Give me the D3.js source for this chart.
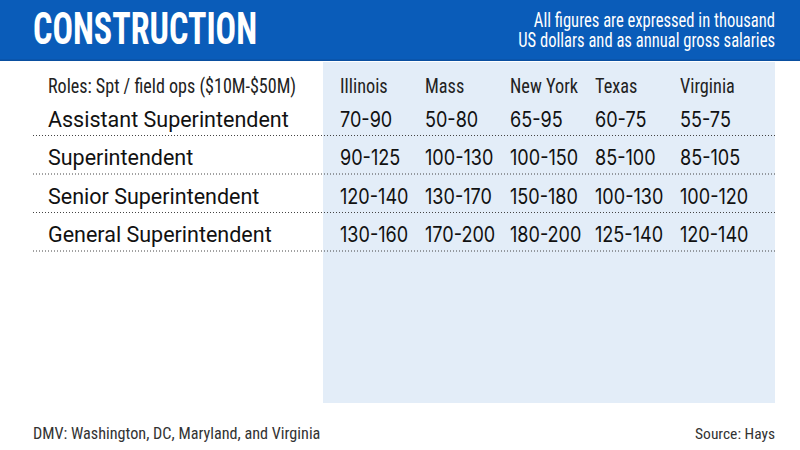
<!DOCTYPE html>
<html><head><meta charset="utf-8">
<script src="https://cdn.jsdelivr.net/npm/d3@7"></script>
<style>
html,body{margin:0;padding:0;background:#fff;}
svg{display:block;}
</style></head>
<body><svg id="c" width="800" height="450"></svg>
<script>
const title = "CONSTRUCTION";
const subtitleLines = ["All figures are expressed in thousand", "US dollars and as annual gross salaries"];
const headerLabel = "Roles: Spt / field ops ($10M-$50M)";
const states = ["Illinois", "Mass", "New York", "Texas", "Virginia"];
const roles = ["Assistant Superintendent", "Superintendent", "Senior Superintendent", "General Superintendent"];
const lowValues = [
  [70, 50, 65, 60, 55],
  [90, 100, 100, 85, 85],
  [120, 130, 150, 100, 100],
  [130, 170, 180, 125, 120]
];
const highValues = [
  [90, 80, 95, 75, 75],
  [125, 130, 150, 100, 105],
  [140, 170, 180, 130, 120],
  [160, 200, 200, 140, 140]
];
const footnote = "DMV: Washington, DC, Maryland, and Virginia";
const source = "Source: Hays";

const W = 800, H = 450;
const svg = d3.select("#c");
const narrow = "'Roboto Condensed','Liberation Sans Narrow','DejaVu Sans Condensed',sans-serif";
const regular = "Roboto,'Liberation Sans',sans-serif";
const numFont = "Inter,Roboto,sans-serif";

// squeeze text horizontally by a factor, keeping its height
function condense(sel, f){
  sel.each(function(){
    const len = this.getComputedTextLength();
    d3.select(this).attr("textLength", len * f).attr("lengthAdjust","spacingAndGlyphs");
  });
}

// header band
svg.append("rect").attr("x",0).attr("y",0).attr("width",W).attr("height",61).attr("fill","#0a5cb9");
svg.append("rect").attr("x",0).attr("y",59.5).attr("width",W).attr("height",1.5).attr("fill","#0a4fa0");

svg.append("text").attr("x",33).attr("y",44)
  .attr("font-family",narrow).attr("font-weight","bold").attr("font-size",45)
  .attr("fill","#fff").attr("textLength",224).attr("lengthAdjust","spacingAndGlyphs")
  .text(title);

svg.selectAll("text.sub").data(subtitleLines).join("text").attr("class","sub")
  .attr("x",775).attr("y",(d,i)=>27+i*19.5).attr("text-anchor","end")
  .attr("font-family",narrow).attr("font-size",19.5).attr("fill","#fff")
  .text(d=>d)
  .call(condense, 0.85);

// columns and rows via scales
const x = d3.scaleBand().domain(states).range([340, 765]).paddingInner(0).align(0);
const y = d3.scaleBand().domain(roles).range([97, 251]);
const rowBase = r => y(r) + y.bandwidth() - 9;

// panel
svg.append("rect").attr("x",323).attr("y",62).attr("width",452).attr("height",341).attr("fill","#e3edf8");

// header row
svg.append("text").attr("x",48).attr("y",93).attr("font-family",narrow).attr("font-size",21)
  .attr("fill","#222").text(headerLabel).call(condense, 0.86);
svg.selectAll("text.state").data(states).join("text").attr("class","state")
  .attr("x",d=>x(d)).attr("y",93).attr("font-family",narrow).attr("font-size",21)
  .attr("fill","#222").text(d=>d).call(condense, 0.87);

// rows
const rowsG = svg.selectAll("g.row").data(roles).join("g").attr("class","row");
rowsG.append("text").attr("x",48).attr("y",d=>rowBase(d))
  .attr("font-family",regular).attr("font-size",21.5).attr("fill","#111").text(d=>d);
rowsG.append("line").attr("x1",33).attr("x2",775)
  .attr("y1",d=>y(d)+y.bandwidth()).attr("y2",d=>y(d)+y.bandwidth())
  .attr("stroke","#444").attr("stroke-width",1).attr("stroke-dasharray","1,2");
rowsG.each(function(r, i){
  d3.select(this).selectAll("text.val").data(states).join("text").attr("class","val")
    .attr("x",s=>x(s)).attr("y",rowBase(r))
    .attr("font-family",numFont).attr("font-size",21).attr("fill","#111")
    .text((s,j)=>lowValues[i][j]+"-"+highValues[i][j])
    .call(condense, 0.86);
});

// footer
svg.append("text").attr("x",33).attr("y",439).attr("font-family",narrow).attr("font-size",16.2)
  .attr("fill","#333").text(footnote);
svg.append("text").attr("x",775).attr("y",439).attr("text-anchor","end").attr("font-family",narrow).attr("font-size",15.5)
  .attr("fill","#333").text(source);
</script></body></html>
